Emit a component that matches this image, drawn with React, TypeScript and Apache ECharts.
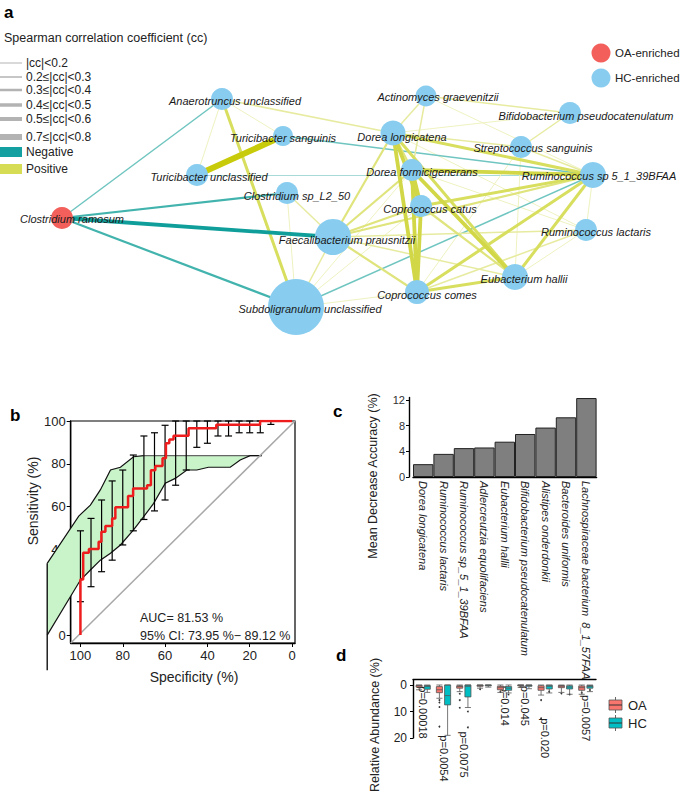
import React, { useEffect, useRef } from "react";
import * as echarts from "echarts";

const FONT = "'Liberation Sans', Arial, Helvetica, sans-serif";

// ---------- Panel a: co-occurrence network ----------
const nodeNames = [
  "Clostridium ramosum",
  "Anaerotruncus unclassified",
  "Turicibacter sanguinis",
  "Turicibacter unclassified",
  "Clostridium sp_L2_50",
  "Faecalibacterium prausnitzii",
  "Subdoligranulum unclassified",
  "Dorea longicatena",
  "Actinomyces graevenitzii",
  "Bifidobacterium pseudocatenulatum",
  "Streptococcus sanguinis",
  "Dorea formicigenerans",
  "Ruminococcus sp 5_1_39BFAA",
  "Coprococcus catus",
  "Ruminococcus lactaris",
  "Eubacterium hallii",
  "Coprococcus comes",
];
const nodeX = [62, 222, 283, 197, 287, 333, 296, 393, 426, 570, 521, 412, 593, 421, 586, 515, 417];
const nodeY = [218, 99, 136, 175, 193, 237, 307, 133, 96, 113, 147, 170, 175, 206, 230, 277, 292];
const nodeSize = [22, 22, 20, 22, 22, 36, 56, 25, 21, 22, 22, 22, 26, 22, 22, 26, 24];
const nodeGroup = ["OA", "HC", "HC", "HC", "HC", "HC", "HC", "HC", "HC", "HC", "HC", "HC", "HC", "HC", "HC", "HC", "HC"];
const labelDX = [10, 13, 0, 12, 10, 14, 14, 9, 12, 16, 12, 10, 6, 9, 10, 9, 10];
const labelDY = [1, 2, 2, 2, 3, 3, 2, 4, 1, 3, 1, 2, 1, 3, 2, 2, 3];

const edgeFrom = [0, 0, 0, 0, 2, 3, 6, 2, 1, 1, 1, 1, 4, 4, 5, 5, 5, 5, 5, 5, 5, 5, 6, 6, 6, 7, 7, 7, 7, 7, 7, 7, 7, 7, 8, 8, 8, 9, 10, 10, 10, 11, 11, 11, 11, 11, 13, 13, 13, 16, 16, 16, 15, 15, 12];
const edgeTo = [1, 4, 5, 6, 12, 12, 12, 3, 6, 3, 2, 7, 5, 6, 6, 7, 11, 13, 12, 16, 15, 14, 16, 13, 11, 8, 11, 16, 13, 15, 10, 12, 9, 14, 9, 11, 12, 10, 12, 16, 15, 12, 16, 13, 15, 14, 12, 16, 15, 12, 15, 14, 12, 14, 14];
const edgeCC = [-0.25, -0.35, -0.55, -0.35, -0.25, -0.15, -0.25, 0.75, 0.45, 0.15, 0.15, 0.25, 0.25, 0.15, 0.25, 0.35, 0.35, 0.35, 0.35, 0.35, 0.25, 0.25, 0.15, 0.15, 0.15, 0.25, 0.35, 0.55, 0.55, 0.45, 0.25, 0.45, 0.15, 0.15, 0.25, 0.25, 0.15, 0.25, 0.25, 0.15, 0.15, 0.55, 0.55, 0.55, 0.55, 0.15, 0.45, 0.55, 0.35, 0.45, 0.45, 0.25, 0.45, 0.15, 0.15];

const ccLegendLabels = ["|cc|<0.2", "0.2\u2264|cc|<0.3", "0.3\u2264|cc|<0.4", "0.4\u2264|cc|<0.5", "0.5\u2264|cc|<0.6", "0.7\u2264|cc|<0.8"];

// ---------- Panel b: ROC ----------
const rocSpec = [100, 100, 98.7, 96, 91.4, 90.1, 88.2, 85, 83.5, 77.5, 75.1, 68.5, 66.7, 64.6, 61.2, 59.6, 58, 56, 48.9, 35.8, 15.1, 0];
const rocSens = [0, 26, 38.5, 40.2, 43.6, 48.3, 50.9, 54.5, 59.7, 65, 68.5, 70, 77, 79, 82.6, 89.6, 91.4, 93.1, 96.6, 98.3, 100, 100];
const ciUpperSpec = [115.7, 100.8, 95.3, 90.6, 85.8, 81.1, 74.9, 70.1];
const ciUpperSens = [33.5, 55.6, 60.7, 67.8, 77.1, 78.4, 83.3, 83.8];
const ciTopSpec = [70.1, 14.3];
const ciTopSens = [83.8, 83.8];
const ciLowerSpec = [115.7, 100, 95.3, 90.6, 85.8, 81.1, 74.9, 70.1, 65.4, 59.9, 55.2, 49.7, 45, 39.5, 29.2, 24.5, 19.8, 14.3];
const ciLowerSens = [0, 25.7, 30.4, 35, 38.2, 42.1, 49.1, 55.3, 61.5, 70.9, 73.2, 77.1, 77.1, 78.4, 78.4, 81.8, 83.8, 83.8];
const ciEdgeSpec = [115.7, 115.7];
const ciEdgeSens = [33.5, -16.4];
const ebSpec = [100, 95, 90, 85, 80, 75, 70, 65, 60, 55, 50, 45, 40, 35, 30, 25, 20, 15, 10];
const ebLow = [15.6, 22.6, 29.6, 35, 42.1, 48.7, 54, 58, 63.1, 70, 77.1, 87.7, 89.6, 93, 93, 94.5, 94.5, 94.5, 98.4];
const ebHigh = [48.7, 54.5, 63.1, 72, 77.1, 84.1, 93, 94.5, 98, 100, 100, 100, 100, 100, 100, 100, 100, 100, 100];
const diagSpec = [104.6, -1.4];
const diagSens = [-3.7, 100];
const rocTicks = [0, 20, 40, 60, 80, 100];

// ---------- Panel c: importance ----------
const barCats = [
  "Dorea longicatena",
  "Ruminococcus lactaris",
  "Ruminococcus sp_5_1_39BFAA",
  "Adlercreutzia equolifaciens",
  "Eubacterium hallii",
  "Bifidobacterium pseudocatenulatum",
  "Alistipes onderdonkii",
  "Bacteroides uniformis",
  "Lachnospiraceae bacterium  8_1_57FAA",
];
const barVals = [2.0, 3.6, 4.5, 4.6, 5.5, 6.7, 7.7, 9.3, 12.3];
const barTicks = [0, 4, 8, 12];

// ---------- Panel d: abundance boxplots ----------
const oaBox = [
  [0, 0.1, 0.3, 0.8, 1.8],
  [0, 0.6, 1.8, 2.9, 5.0],
  [0, 0.3, 0.6, 1.2, 2.5],
  [0, 0, 0.2, 0.5, 1.2],
  [0, 0.5, 1.0, 1.8, 2.8],
  [0, 0, 0.1, 0.3, 0.9],
  [0, 0.3, 1.0, 2.0, 3.8],
  [0, 0.2, 0.5, 1.0, 2.8],
  [0, 0.4, 1.0, 2.0, 3.5],
];
const hcBox = [
  [0, 0.2, 0.6, 1.6, 2.8],
  [0, 0, 4.0, 7.5, 19.0],
  [0, 0, 0.5, 4.5, 8.5],
  [0, 0, 0.1, 0.3, 0.8],
  [0, 0.6, 1.2, 2.0, 3.0],
  [0, 0, 0.2, 0.5, 1.4],
  [0, 0.1, 0.5, 1.5, 3.0],
  [0, 0.3, 0.8, 1.5, 3.5],
  [0, 0.2, 0.6, 1.2, 2.5],
];
const outCat = [1, 1, 1, 1, 2, 2, 2, 2, 2, 3, 4, 4, 6, 6, 6, 7, 7, 8, 8];
const outVal = [5.7, 6.6, 8.3, 15.7, 3.3, 5.7, 8.6, 10.0, 16.0, 1.6, 2.6, 3.6, 5.7, 12.6, 2.5, 3.2, 3.6, 2.9, 1.9];
const outGrp = [0, 0, 0, 0, 0, 0, 0, 1, 1, 0, 0, 1, 0, 0, 1, 0, 1, 0, 1];
const pCat = [0, 1, 2, 4, 5, 6, 8];
const pStart = [0.5, 19, 17.5, 0.3, 0.3, 12.5, 3.8];
const pText = ["p=0.00018", "p=0.0054", "p=0.0075", "p=0.014", "p=0.045", "p=0.020", "p=0.0057"];
const boxTicks = [0, 10, 20];

const RED = "#f35f5b";
const BLUE = "#88cdef";
const OA_COL = "#f8766d";
const HC_COL = "#00bfc4";

function ccWidth(a: number) {
  if (a < 0.2) return 1;
  if (a < 0.3) return 1.5;
  if (a < 0.4) return 2.2;
  if (a < 0.5) return 3;
  if (a < 0.6) return 3.8;
  return 6;
}
function ccColor(c: number) {
  const a = Math.abs(c);
  if (c < 0) {
    if (a < 0.2) return "#a6dbd7";
    if (a < 0.3) return "#6fc5c0";
    if (a < 0.4) return "#42b3ad";
    return "#0f9e9a";
  }
  if (a < 0.2) return "#eff2c0";
  if (a < 0.3) return "#e7eba0";
  if (a < 0.4) return "#dfe47c";
  if (a < 0.5) return "#d8de5e";
  if (a < 0.6) return "#d1d746";
  return "#c8cb0a";
}

function txt(x: number, y: number, text: string, size: number, opts: any = {}) {
  return {
    type: "text",
    x,
    y,
    rotation: opts.rotation || 0,
    silent: true,
    style: {
      text,
      fill: opts.fill || "#222",
      font: `${opts.weight || "normal"} ${size}px ${FONT}`,
      align: opts.align || "left",
      verticalAlign: "middle",
    },
  };
}

function polySeries(xs: number[], ys: number[], color: string, width: number, z: number) {
  return {
    type: "custom",
    xAxisIndex: 1,
    yAxisIndex: 1,
    clip: false,
    silent: true,
    z,
    data: [[xs[0], ys[0]]],
    renderItem: (_p: any, api: any) => ({
      type: "polyline",
      shape: { points: xs.map((x, i) => api.coord([x, ys[i]])) },
      style: { stroke: color, lineWidth: width, fill: "none" },
    }),
  };
}

function buildOption() {
  const graphNodes = nodeNames.map((name, i) => ({
    name,
    value: [nodeX[i], nodeY[i]],
    symbolSize: nodeSize[i],
    itemStyle: { color: nodeGroup[i] === "OA" ? RED : BLUE },
    label: {
      show: true,
      position: "inside",
      offset: [labelDX[i], labelDY[i]],
      fontStyle: "italic",
      fontSize: 11,
      fontFamily: FONT,
      color: "#1a1a1a",
    },
  }));
  const order = edgeCC.map((_, i) => i).sort((a, b) => Math.abs(edgeCC[a]) - Math.abs(edgeCC[b]));
  const graphLinks = order.map((i) => ({
    source: edgeFrom[i],
    target: edgeTo[i],
    lineStyle: { color: ccColor(edgeCC[i]), width: ccWidth(Math.abs(edgeCC[i])), opacity: 1, curveness: 0 },
  }));

  const ciPoly: number[][] = [];
  ciUpperSpec.forEach((s, i) => ciPoly.push([s, ciUpperSens[i]]));
  ciTopSpec.forEach((s, i) => ciPoly.push([s, ciTopSens[i]]));
  for (let i = ciLowerSpec.length - 1; i >= 0; i--) ciPoly.push([ciLowerSpec[i], ciLowerSens[i]]);

  const graphics: any[] = [];
  // panel letters
  graphics.push(txt(4, 12, "a", 17, { weight: "bold", fill: "#000" }));
  graphics.push(txt(10, 415, "b", 17, { weight: "bold", fill: "#000" }));
  graphics.push(txt(333, 411, "c", 17, { weight: "bold", fill: "#000" }));
  graphics.push(txt(336, 655, "d", 17, { weight: "bold", fill: "#000" }));
  // cc legend
  graphics.push(txt(4, 38, "Spearman correlation coefficient (cc)", 12.5));
  const rowY = [63, 77, 90, 105, 119, 137];
  const rowW = [1, 1.5, 2.5, 3.5, 4, 6];
  ccLegendLabels.forEach((l, i) => {
    graphics.push({
      type: "line",
      silent: true,
      shape: { x1: 0, y1: rowY[i], x2: 22, y2: rowY[i] },
      style: { stroke: "#b3b3b3", lineWidth: rowW[i] },
    });
    graphics.push(txt(26, rowY[i], l, 12));
  });
  graphics.push({ type: "rect", silent: true, shape: { x: 0, y: 147, width: 22, height: 10 }, style: { fill: "#14a0a0" } });
  graphics.push(txt(26, 152, "Negative", 12));
  graphics.push({ type: "rect", silent: true, shape: { x: 0, y: 164, width: 22, height: 10 }, style: { fill: "#d6dd55" } });
  graphics.push(txt(26, 169, "Positive", 12));
  // node legend
  graphics.push({ type: "circle", silent: true, shape: { cx: 601, cy: 53, r: 9.5 }, style: { fill: RED } });
  graphics.push(txt(615, 53, "OA-enriched", 11.5));
  graphics.push({ type: "circle", silent: true, shape: { cx: 601, cy: 78, r: 9.5 }, style: { fill: BLUE } });
  graphics.push(txt(615, 78, "HC-enriched", 11.5));
  // ROC texts
  graphics.push(txt(140, 618, "AUC= 81.53 %", 12.5));
  graphics.push(txt(140, 636, "95% CI: 73.95 %\u2212 89.12 %", 12.5));
  graphics.push(txt(33, 501, "Sensitivity (%)", 14, { rotation: Math.PI / 2, align: "center" }));
  graphics.push(txt(194, 677, "Specificity (%)", 14, { align: "center" }));
  // c / d titles
  graphics.push(txt(373, 476, "Mean Decrease Accuracy (%)", 12.5, { rotation: Math.PI / 2, align: "center" }));
  graphics.push(txt(375, 725, "Relative Abundance (%)", 12.5, { rotation: Math.PI / 2, align: "center" }));
  // d legend
  [
    { y: 705, c: OA_COL, t: "OA" },
    { y: 723, c: HC_COL, t: "HC" },
  ].forEach((g) => {
    graphics.push({ type: "line", silent: true, shape: { x1: 615.5, y1: g.y - 8, x2: 615.5, y2: g.y + 8 }, style: { stroke: "#666", lineWidth: 1 } });
    graphics.push({ type: "rect", silent: true, shape: { x: 609, y: g.y - 5, width: 13, height: 10 }, style: { fill: g.c, stroke: "#555", lineWidth: 0.8 } });
    graphics.push({ type: "line", silent: true, shape: { x1: 609, y1: g.y, x2: 622, y2: g.y }, style: { stroke: "#333", lineWidth: 1 } });
    graphics.push(txt(628, g.y, g.t, 13));
  });

  const axisBlack = { show: true, onZero: false, lineStyle: { color: "#000", width: 1.4 } };

  return {
    animation: false,
    backgroundColor: "#fff",
    grid: [
      { left: 0, top: 0, width: 685, height: 340 },
      { left: 70.7, top: 421, width: 224.3, height: 222, show: true, borderColor: "#000", borderWidth: 1.2 },
      { left: 413, top: 397.4, width: 183.6, height: 79.6 },
      { left: 413, top: 679.7, width: 183, height: 58.3 },
    ],
    xAxis: [
      { gridIndex: 0, type: "value", min: 0, max: 685, show: false },
      {
        gridIndex: 1,
        type: "value",
        inverse: true,
        min: -1.4,
        max: 104.6,
        axisLine: axisBlack,
        axisTick: { show: true, customValues: rocTicks, length: 4, lineStyle: { color: "#000" } },
        axisLabel: { customValues: rocTicks, fontSize: 13, color: "#222", margin: 6, fontFamily: FONT },
        splitLine: { show: false },
      },
      {
        gridIndex: 2,
        type: "category",
        data: barCats,
        axisLine: axisBlack,
        axisTick: { show: false },
        axisLabel: { rotate: -90, interval: 0, fontStyle: "italic", fontSize: 11, color: "#222", margin: 4, fontFamily: FONT },
      },
      {
        gridIndex: 3,
        type: "category",
        data: barCats,
        position: "top",
        axisLine: axisBlack,
        axisTick: { show: false },
        axisLabel: { show: false },
      },
    ],
    yAxis: [
      { gridIndex: 0, type: "value", min: 0, max: 340, inverse: true, show: false },
      {
        gridIndex: 1,
        type: "value",
        min: -3.7,
        max: 100,
        axisLine: axisBlack,
        axisTick: { show: true, customValues: rocTicks, length: 4, lineStyle: { color: "#000" } },
        axisLabel: { customValues: rocTicks, fontSize: 13, color: "#222", margin: 5, fontFamily: FONT },
        splitLine: { show: false },
      },
      {
        gridIndex: 2,
        type: "value",
        min: 0,
        max: 12.4,
        offset: 4,
        axisLine: axisBlack,
        axisTick: { show: true, customValues: barTicks, length: 3, lineStyle: { color: "#000" } },
        axisLabel: { customValues: barTicks, fontSize: 11, color: "#333", margin: 4, fontFamily: FONT },
        splitLine: { show: false },
      },
      {
        gridIndex: 3,
        type: "value",
        inverse: true,
        min: -2,
        max: 20,
        axisLine: axisBlack,
        axisTick: { show: true, customValues: boxTicks, length: 3, lineStyle: { color: "#000" } },
        axisLabel: { customValues: boxTicks, fontSize: 12, color: "#222", margin: 6, fontFamily: FONT },
        splitLine: { show: false },
      },
    ],
    graphic: { elements: graphics },
    series: [
      {
        type: "graph",
        layout: "none",
        coordinateSystem: "cartesian2d",
        xAxisIndex: 0,
        yAxisIndex: 0,
        roam: false,
        silent: true,
        data: graphNodes,
        links: graphLinks,
        emphasis: { disabled: true },
        z: 2,
      },
      {
        type: "custom",
        xAxisIndex: 1,
        yAxisIndex: 1,
        clip: false,
        silent: true,
        z: 1,
        data: [[0, 0]],
        renderItem: (_p: any, api: any) => ({
          type: "polygon",
          shape: { points: ciPoly.map((p) => api.coord(p)) },
          style: { fill: "#c9f4c9", stroke: "none" },
        }),
      },
      polySeries(ciUpperSpec, ciUpperSens, "#111", 1.2, 2),
      polySeries(ciTopSpec, ciTopSens, "#666", 1.2, 2),
      polySeries(ciLowerSpec, ciLowerSens, "#111", 1.2, 2),
      polySeries(ciEdgeSpec, ciEdgeSens, "#111", 1.4, 2),
      polySeries(diagSpec, diagSens, "#a8a8a8", 1.5, 2),
      {
        type: "custom",
        xAxisIndex: 1,
        yAxisIndex: 1,
        clip: false,
        silent: true,
        z: 3,
        data: ebSpec.map((s, i) => [s, ebLow[i], ebHigh[i]]),
        renderItem: (_p: any, api: any) => {
          const lo = api.coord([api.value(0), api.value(1)]);
          const hi = api.coord([api.value(0), api.value(2)]);
          const c = 3.5;
          const st = { stroke: "#000", lineWidth: 1.2 };
          return {
            type: "group",
            children: [
              { type: "line", shape: { x1: lo[0], y1: lo[1], x2: hi[0], y2: hi[1] }, style: st },
              { type: "line", shape: { x1: lo[0] - c, y1: lo[1], x2: lo[0] + c, y2: lo[1] }, style: st },
              { type: "line", shape: { x1: hi[0] - c, y1: hi[1], x2: hi[0] + c, y2: hi[1] }, style: st },
            ],
          };
        },
      },
      {
        type: "line",
        xAxisIndex: 1,
        yAxisIndex: 1,
        silent: true,
        symbol: "none",
        step: "end",
        z: 4,
        data: rocSpec.map((s, i) => [s, rocSens[i]]),
        lineStyle: { color: "#ee1c1c", width: 2.5 },
      },
      {
        type: "bar",
        xAxisIndex: 2,
        yAxisIndex: 2,
        silent: true,
        clip: false,
        data: barVals,
        barCategoryGap: "0%",
        itemStyle: { color: "#7f7f7f", borderColor: "#222", borderWidth: 1 },
      },
      {
        type: "boxplot",
        xAxisIndex: 3,
        yAxisIndex: 3,
        silent: true,
        data: oaBox,
        boxWidth: [4, 8],
        itemStyle: { color: OA_COL, borderColor: "#555", borderWidth: 0.8 },
      },
      {
        type: "boxplot",
        xAxisIndex: 3,
        yAxisIndex: 3,
        silent: true,
        data: hcBox,
        boxWidth: [4, 8],
        itemStyle: { color: HC_COL, borderColor: "#555", borderWidth: 0.8 },
      },
      {
        type: "custom",
        xAxisIndex: 3,
        yAxisIndex: 3,
        silent: true,
        clip: false,
        data: outCat.map((c, i) => [c, outVal[i], outGrp[i]]),
        renderItem: (_p: any, api: any) => {
          const pt = api.coord([api.value(0), api.value(1)]);
          const bw = api.size([1, 0])[0];
          const dx = (api.value(2) === 0 ? -0.2 : 0.2) * bw;
          return { type: "circle", shape: { cx: pt[0] + dx, cy: pt[1], r: 0.9 }, style: { fill: "#333" } };
        },
      },
      {
        type: "custom",
        xAxisIndex: 3,
        yAxisIndex: 3,
        silent: true,
        clip: false,
        data: pCat.map((c, i) => [c, pStart[i], i]),
        renderItem: (_p: any, api: any) => {
          const pt = api.coord([api.value(0), api.value(1)]);
          return {
            type: "text",
            x: pt[0],
            y: pt[1],
            rotation: -Math.PI / 2,
            style: {
              text: pText[api.value(2)],
              fill: "#222",
              font: `11px ${FONT}`,
              align: "left",
              verticalAlign: "middle",
            },
          };
        },
      },
    ],
  };
}

export default function App() {
  const ref = useRef<HTMLDivElement>(null);
  useEffect(() => {
    if (!ref.current) return;
    const chart = echarts.init(ref.current, null, { renderer: "svg" });
    chart.setOption(buildOption() as any);
    return () => chart.dispose();
  }, []);
  return (
    <div
      ref={ref}
      style={{ position: "absolute", left: 0, top: 0, width: 685, height: 795, background: "#fff" }}
    />
  );
}
